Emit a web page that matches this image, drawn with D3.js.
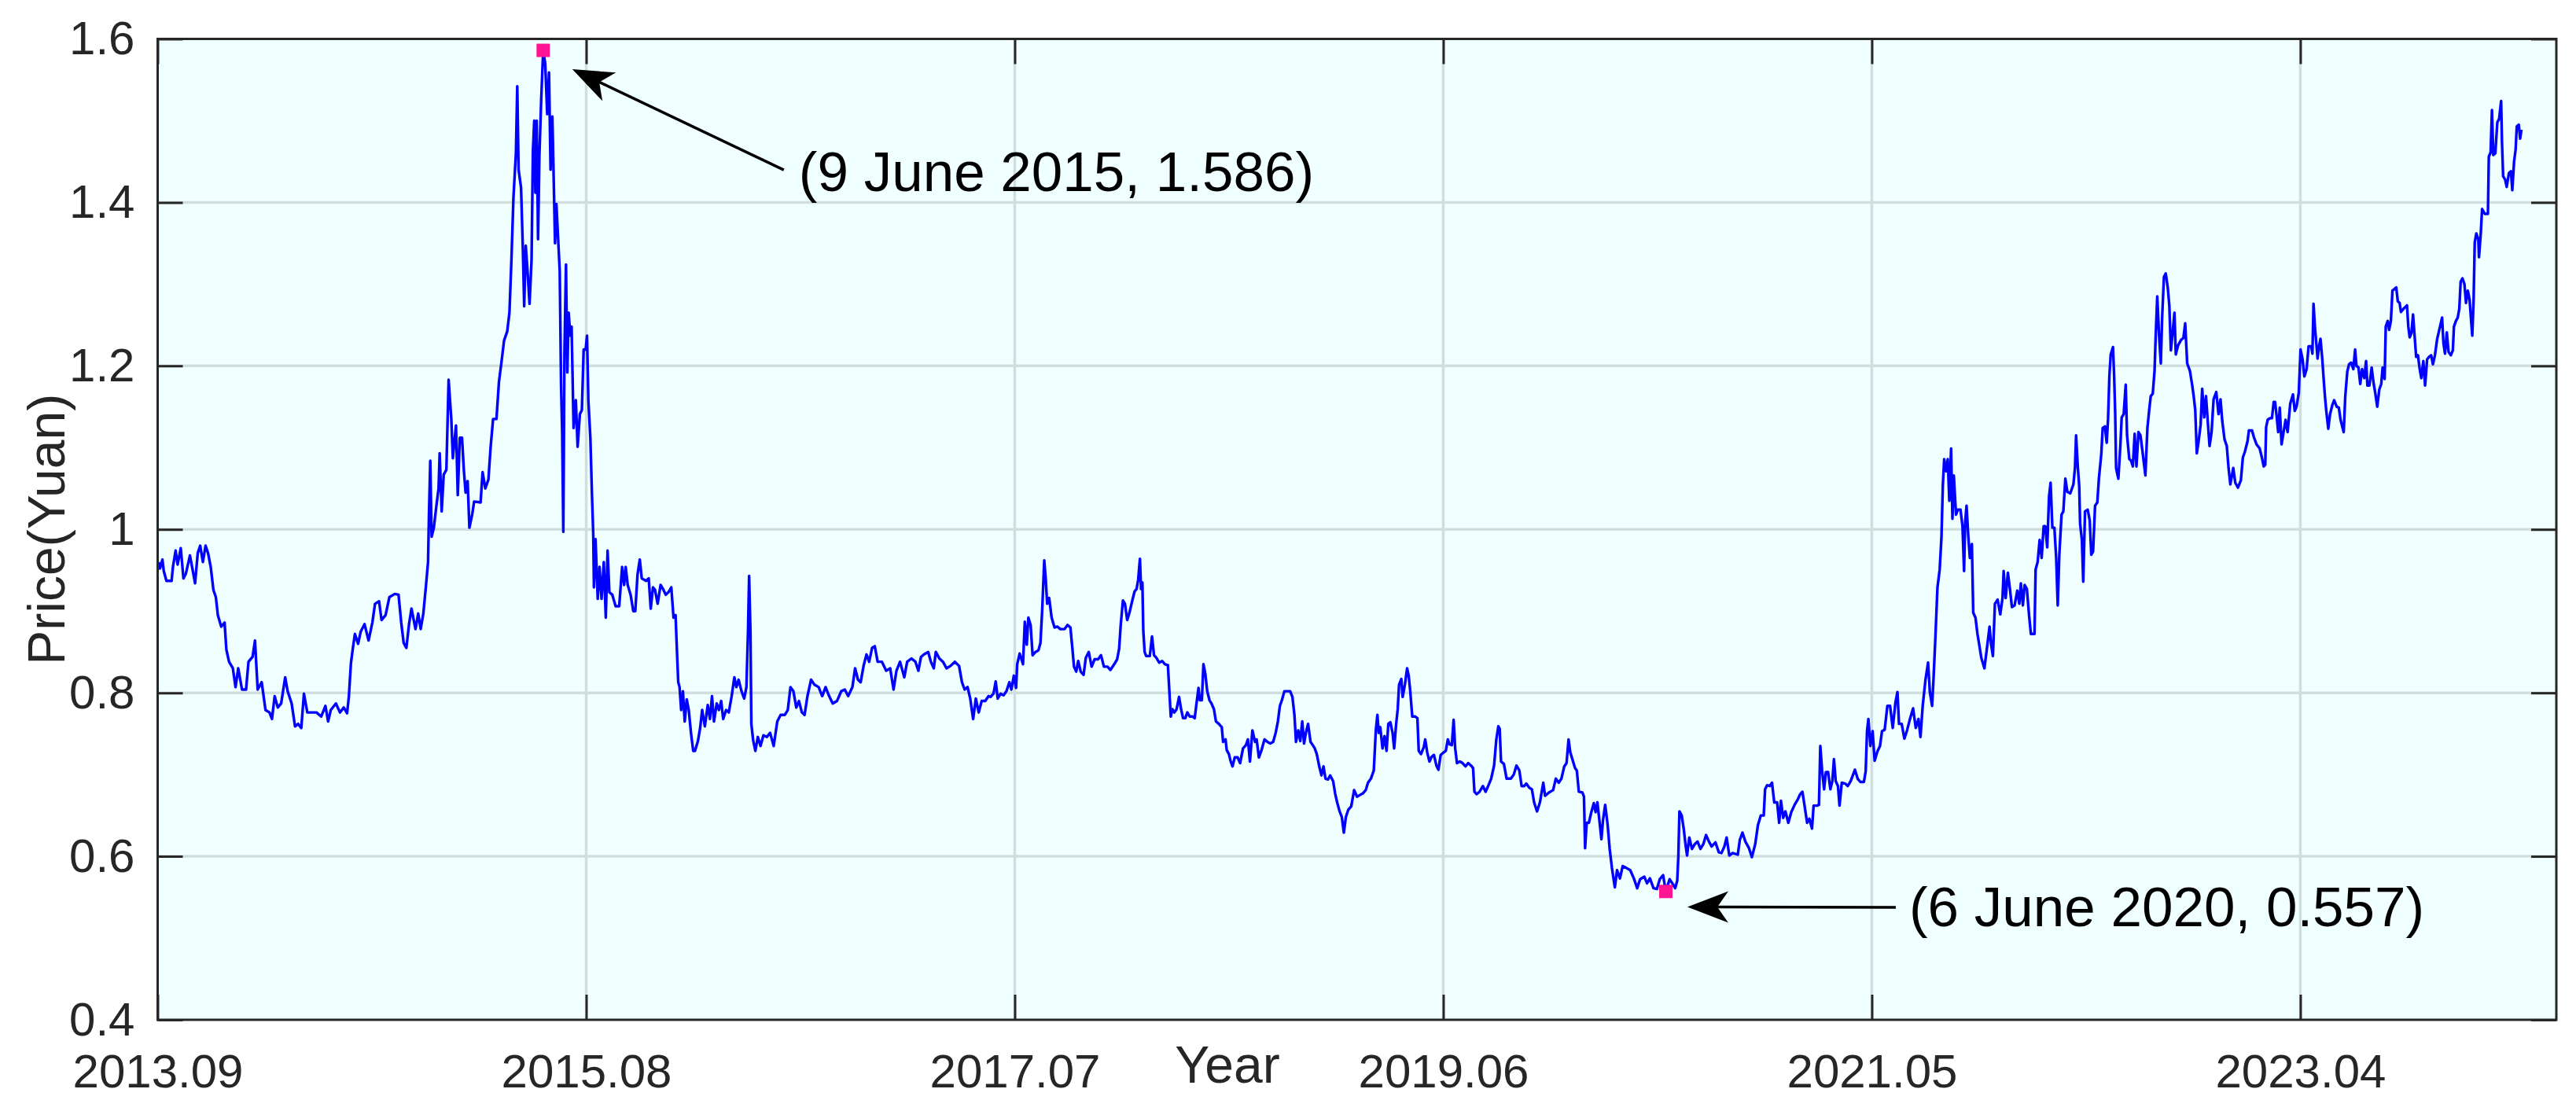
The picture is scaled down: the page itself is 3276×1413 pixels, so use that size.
<!DOCTYPE html>
<html>
<head>
<meta charset="utf-8">
<script src="https://cdn.jsdelivr.net/npm/d3@7"></script>
<style>
    body { margin: 0; background: #ffffff; }
    text { font-family: 'Liberation Sans', Arial, Helvetica, sans-serif; }
</style>
</head>
<body>
<div id="chart"></div>
<script>

// trading dates as decimal years
var years = [
    2013.671, 2013.677, 2013.688, 2013.694, 2013.706, 2013.729, 2013.735, 2013.747, 2013.756, 2013.770,
    2013.782, 2013.793, 2013.811, 2013.822, 2013.834, 2013.846, 2013.857, 2013.869, 2013.881, 2013.892,
    2013.904, 2013.916, 2013.927, 2013.936, 2013.951, 2013.966, 2013.974, 2013.986, 2014.003, 2014.015,
    2014.027, 2014.044, 2014.062, 2014.073, 2014.091, 2014.102, 2014.114, 2014.132, 2014.149, 2014.167,
    2014.178, 2014.190, 2014.204, 2014.219, 2014.237, 2014.248, 2014.266, 2014.281, 2014.295, 2014.309,
    2014.321, 2014.336, 2014.353, 2014.377, 2014.398, 2014.417, 2014.429, 2014.441, 2014.464, 2014.482,
    2014.499, 2014.514, 2014.522, 2014.531, 2014.540, 2014.549, 2014.563, 2014.575, 2014.592, 2014.610,
    2014.627, 2014.639, 2014.657, 2014.668, 2014.686, 2014.703, 2014.727, 2014.744, 2014.756, 2014.767,
    2014.779, 2014.791, 2014.802, 2014.820, 2014.832, 2014.843, 2014.855, 2014.866, 2014.876, 2014.880,
    2014.886, 2014.892, 2014.902, 2014.913, 2014.923, 2014.928, 2014.937, 2014.946, 2014.958, 2014.968,
    2014.980, 2014.987, 2015.001, 2015.009, 2015.018, 2015.028, 2015.036, 2015.044, 2015.053, 2015.061,
    2015.074, 2015.082, 2015.111, 2015.120, 2015.132, 2015.146, 2015.156, 2015.167, 2015.182, 2015.193,
    2015.205, 2015.216, 2015.230, 2015.240, 2015.249, 2015.258, 2015.269, 2015.275, 2015.281, 2015.292,
    2015.300, 2015.306, 2015.313, 2015.321, 2015.330, 2015.339, 2015.345, 2015.351, 2015.356, 2015.362,
    2015.368, 2015.374, 2015.382, 2015.391, 2015.400, 2015.409, 2015.417, 2015.424, 2015.432, 2015.438,
    2015.444, 2015.450,
    2015.465, 2015.471, 2015.476, 2015.481, 2015.486, 2015.493, 2015.499, 2015.505, 2015.512, 2015.518,
    2015.527, 2015.537, 2015.545, 2015.555, 2015.564, 2015.572, 2015.581, 2015.587, 2015.593, 2015.602,
    2015.609, 2015.615, 2015.618, 2015.625, 2015.635, 2015.643, 2015.652, 2015.662, 2015.671, 2015.679,
    2015.687, 2015.700, 2015.715, 2015.731, 2015.744, 2015.753, 2015.760, 2015.769, 2015.782, 2015.794,
    2015.803, 2015.813, 2015.823, 2015.832, 2015.851, 2015.863, 2015.872, 2015.882, 2015.891, 2015.903,
    2015.916, 2015.929, 2015.939, 2015.951, 2015.964, 2015.974, 2015.983, 2015.989, 2015.995, 2016.001,
    2016.008, 2016.016, 2016.024, 2016.033, 2016.042, 2016.052, 2016.062, 2016.070, 2016.083, 2016.093,
    2016.102, 2016.114, 2016.127, 2016.137, 2016.146, 2016.155, 2016.167, 2016.177, 2016.187, 2016.196,
    2016.209, 2016.221, 2016.234, 2016.246, 2016.255, 2016.265, 2016.278, 2016.290, 2016.300, 2016.307,
    2016.312, 2016.318, 2016.322, 2016.330, 2016.340, 2016.351, 2016.363, 2016.376, 2016.391, 2016.406,
    2016.422, 2016.438, 2016.453, 2016.472, 2016.485, 2016.497, 2016.510, 2016.523, 2016.535, 2016.548,
    2016.560, 2016.573, 2016.589, 2016.604, 2016.623, 2016.639, 2016.654, 2016.670, 2016.686, 2016.705,
    2016.724, 2016.740, 2016.755, 2016.774, 2016.786, 2016.799, 2016.811, 2016.824, 2016.837, 2016.849,
    2016.862, 2016.874, 2016.887, 2016.906, 2016.925, 2016.943, 2016.958, 2016.971, 2016.987, 2017.006,
    2017.019, 2017.038, 2017.056, 2017.069, 2017.081, 2017.094, 2017.113, 2017.125, 2017.138, 2017.147,
    2017.163, 2017.179, 2017.195, 2017.213, 2017.232, 2017.251, 2017.264, 2017.276, 2017.289, 2017.301,
    2017.314, 2017.326, 2017.339, 2017.352, 2017.368, 2017.383,
    2017.392, 2017.405, 2017.415, 2017.424, 2017.437, 2017.450, 2017.463, 2017.476, 2017.485, 2017.496,
    2017.506, 2017.511, 2017.522, 2017.528, 2017.537, 2017.545, 2017.554, 2017.561, 2017.571, 2017.580,
    2017.593, 2017.606, 2017.615, 2017.623, 2017.632, 2017.639, 2017.645, 2017.654, 2017.665, 2017.678,
    2017.691, 2017.704, 2017.723, 2017.736, 2017.749, 2017.758, 2017.765, 2017.775, 2017.784, 2017.795,
    2017.808, 2017.818, 2017.831, 2017.844, 2017.857, 2017.873, 2017.886, 2017.899, 2017.915, 2017.928,
    2017.945, 2017.958, 2017.967, 2017.974, 2017.984, 2017.993, 2018.003, 2018.013, 2018.026, 2018.036,
    2018.045, 2018.052, 2018.060, 2018.065, 2018.071, 2018.075, 2018.081, 2018.088, 2018.104, 2018.114,
    2018.123, 2018.133, 2018.146, 2018.159, 2018.172, 2018.185, 2018.192, 2018.198, 2018.205, 2018.214,
    2018.224, 2018.235, 2018.244, 2018.253, 2018.263, 2018.272, 2018.283, 2018.296, 2018.305, 2018.313,
    2018.322, 2018.328, 2018.337, 2018.344, 2018.352, 2018.361, 2018.371, 2018.380, 2018.391, 2018.400,
    2018.413, 2018.426, 2018.432, 2018.443, 2018.448, 2018.458, 2018.465, 2018.474, 2018.484, 2018.497,
    2018.508, 2018.521, 2018.534, 2018.543, 2018.552, 2018.563, 2018.575, 2018.582, 2018.592, 2018.604,
    2018.617, 2018.630, 2018.643, 2018.656, 2018.667, 2018.677, 2018.686, 2018.695, 2018.706, 2018.719,
    2018.732, 2018.742, 2018.751, 2018.758, 2018.768, 2018.777, 2018.786, 2018.794, 2018.803, 2018.812,
    2018.823, 2018.833, 2018.842, 2018.851, 2018.862, 2018.872, 2018.881, 2018.890, 2018.901, 2018.911,
    2018.924, 2018.933, 2018.942, 2018.953, 2018.963, 2018.972, 2018.981, 2018.992, 2019.005, 2019.018,
    2019.031, 2019.044, 2019.057, 2019.070, 2019.080, 2019.093, 2019.106, 2019.115, 2019.122, 2019.128,
    2019.135, 2019.145, 2019.154, 2019.163, 2019.171, 2019.180, 2019.190, 2019.197, 2019.206, 2019.213,
    2019.219, 2019.229, 2019.235, 2019.245, 2019.255, 2019.262, 2019.269, 2019.278, 2019.291, 2019.301,
    2019.307, 2019.317,
    2019.330, 2019.336, 2019.345, 2019.355, 2019.365, 2019.375, 2019.386, 2019.395, 2019.405, 2019.418,
    2019.428, 2019.437, 2019.445, 2019.455, 2019.463, 2019.470, 2019.478, 2019.491, 2019.503, 2019.516,
    2019.528, 2019.541, 2019.550, 2019.556, 2019.566, 2019.579, 2019.594, 2019.606, 2019.619, 2019.631,
    2019.644, 2019.654, 2019.663, 2019.669, 2019.675, 2019.688, 2019.700, 2019.719, 2019.732, 2019.744,
    2019.757, 2019.767, 2019.779, 2019.788, 2019.801, 2019.813, 2019.823, 2019.836, 2019.849, 2019.864,
    2019.872, 2019.889, 2019.908, 2019.920, 2019.933, 2019.945, 2019.958, 2019.968, 2019.977, 2019.985,
    2019.995, 2020.006, 2020.014, 2020.023, 2020.039, 2020.046, 2020.051, 2020.058, 2020.068, 2020.077,
    2020.090, 2020.098, 2020.106, 2020.115, 2020.124, 2020.131, 2020.141, 2020.152, 2020.161, 2020.171,
    2020.178, 2020.184, 2020.194, 2020.207, 2020.219, 2020.234, 2020.253, 2020.269, 2020.284, 2020.297,
    2020.316, 2020.328, 2020.341, 2020.357, 2020.372, 2020.385, 2020.400, 2020.412, 2020.429, 2020.441,
    2020.454, 2020.463, 2020.468, 2020.473, 2020.483, 2020.492, 2020.500, 2020.507, 2020.517, 2020.529,
    2020.542, 2020.554, 2020.567, 2020.580, 2020.592, 2020.605, 2020.617, 2020.634, 2020.649, 2020.661,
    2020.674, 2020.684, 2020.696, 2020.711, 2020.734, 2020.743, 2020.755, 2020.768, 2020.784, 2020.797,
    2020.812, 2020.824, 2020.837, 2020.850, 2020.856, 2020.865, 2020.877, 2020.887, 2020.897, 2020.910,
    2020.919, 2020.927, 2020.937, 2020.947, 2020.960, 2020.973, 2020.988, 2021.003, 2021.013, 2021.023,
    2021.032, 2021.044, 2021.054, 2021.066, 2021.073, 2021.088, 2021.097, 2021.103, 2021.111, 2021.120,
    2021.128, 2021.138, 2021.148, 2021.157, 2021.164, 2021.172, 2021.182, 2021.189, 2021.199, 2021.214,
    2021.226, 2021.239, 2021.258,
    2021.270, 2021.282, 2021.298, 2021.306, 2021.312, 2021.318, 2021.327, 2021.337, 2021.346, 2021.358,
    2021.370, 2021.379, 2021.391, 2021.403, 2021.415, 2021.427, 2021.439, 2021.448, 2021.455, 2021.467,
    2021.479, 2021.492, 2021.504, 2021.518, 2021.530, 2021.542, 2021.551, 2021.561, 2021.573, 2021.585,
    2021.593, 2021.603, 2021.609, 2021.617, 2021.627, 2021.637, 2021.645, 2021.651, 2021.657, 2021.666,
    2021.673, 2021.680, 2021.688, 2021.694, 2021.700, 2021.710, 2021.718, 2021.730, 2021.739, 2021.746,
    2021.751, 2021.757, 2021.765, 2021.772, 2021.781, 2021.787, 2021.797, 2021.806, 2021.815, 2021.823,
    2021.837, 2021.848, 2021.860, 2021.867, 2021.875, 2021.884, 2021.896, 2021.908, 2021.918, 2021.923,
    2021.932, 2021.942, 2021.952, 2021.960, 2021.972, 2021.984, 2021.993, 2022.000, 2022.009, 2022.017,
    2022.027, 2022.037, 2022.045, 2022.061, 2022.066, 2022.075, 2022.084, 2022.093, 2022.102, 2022.109,
    2022.118, 2022.126, 2022.133, 2022.141, 2022.150, 2022.158, 2022.165, 2022.172, 2022.182, 2022.190,
    2022.199, 2022.208, 2022.221, 2022.235, 2022.242, 2022.247, 2022.255, 2022.261, 2022.265, 2022.273,
    2022.279, 2022.287, 2022.299, 2022.308, 2022.315, 2022.323, 2022.332, 2022.342, 2022.349, 2022.360,
    2022.366, 2022.376, 2022.384, 2022.390, 2022.396, 2022.402, 2022.412, 2022.417, 2022.422, 2022.426,
    2022.436, 2022.445, 2022.451, 2022.460, 2022.469, 2022.475, 2022.485, 2022.493, 2022.501, 2022.509,
    2022.517, 2022.526, 2022.535, 2022.545, 2022.557, 2022.566, 2022.574, 2022.581, 2022.590, 2022.598,
    2022.603, 2022.610, 2022.618, 2022.626, 2022.632, 2022.640, 2022.648, 2022.657, 2022.664, 2022.671,
    2022.678, 2022.687, 2022.693, 2022.703, 2022.717, 2022.727, 2022.735, 2022.744, 2022.756, 2022.766,
    2022.773, 2022.780, 2022.787, 2022.796, 2022.804, 2022.811, 2022.820, 2022.828, 2022.836, 2022.844,
    2022.853, 2022.862, 2022.874, 2022.884, 2022.893, 2022.901, 2022.911, 2022.921, 2022.929, 2022.937,
    2022.950, 2022.959, 2022.971, 2022.984, 2022.993, 2023.002, 2023.014, 2023.020, 2023.034, 2023.042,
    2023.054, 2023.068, 2023.078, 2023.086,
    2023.093, 2023.097, 2023.104, 2023.114, 2023.123, 2023.131, 2023.137, 2023.143, 2023.151, 2023.158,
    2023.166, 2023.175, 2023.184, 2023.193, 2023.205, 2023.217, 2023.225, 2023.233, 2023.243, 2023.251,
    2023.260, 2023.268, 2023.278, 2023.287, 2023.299, 2023.304, 2023.309, 2023.315, 2023.322, 2023.327,
    2023.334, 2023.340, 2023.348, 2023.354, 2023.360, 2023.366, 2023.375, 2023.383, 2023.393, 2023.401,
    2023.413, 2023.422, 2023.430, 2023.440, 2023.444, 2023.451, 2023.460, 2023.468, 2023.477, 2023.487,
    2023.495, 2023.501, 2023.510, 2023.518, 2023.526, 2023.536, 2023.544, 2023.550, 2023.559, 2023.569,
    2023.577, 2023.585, 2023.594, 2023.603, 2023.612, 2023.618, 2023.627, 2023.632, 2023.641, 2023.647,
    2023.655, 2023.662, 2023.671, 2023.679, 2023.686, 2023.694, 2023.700, 2023.712, 2023.727, 2023.733,
    2023.739, 2023.747, 2023.754, 2023.761, 2023.768, 2023.776, 2023.784, 2023.791, 2023.800, 2023.808,
    2023.817, 2023.826, 2023.835, 2023.843, 2023.852, 2023.862, 2023.873, 2023.884, 2023.890, 2023.897,
    2023.905, 2023.913, 2023.923, 2023.932, 2023.937, 2023.946, 2023.954, 2023.961, 2023.967, 2023.975,
    2023.984, 2023.991, 2023.999, 2024.007, 2024.014, 2024.019, 2024.025, 2024.030, 2024.037, 2024.046,
    2024.049, 2024.057, 2024.063, 2024.075, 2024.089, 2024.093, 2024.101, 2024.107, 2024.113, 2024.122,
    2024.131, 2024.139, 2024.148, 2024.152, 2024.157, 2024.166, 2024.173, 2024.183, 2024.192, 2024.198,
    2024.206, 2024.213, 2024.218, 2024.227, 2024.233, 2024.239
];

// closing price (Yuan)
var prices = [
    0.960, 0.952, 0.963, 0.949, 0.937, 0.937, 0.954, 0.974, 0.957, 0.977,
    0.940, 0.946, 0.968, 0.952, 0.934, 0.971, 0.980, 0.960, 0.980, 0.971,
    0.954, 0.926, 0.917, 0.895, 0.881, 0.886, 0.853, 0.838, 0.830, 0.807,
    0.830, 0.804, 0.804, 0.838, 0.844, 0.864, 0.804, 0.813, 0.779, 0.776,
    0.768, 0.796, 0.782, 0.787, 0.819, 0.802, 0.787, 0.759, 0.762, 0.757,
    0.799, 0.776, 0.776, 0.776, 0.771, 0.784, 0.765, 0.779, 0.787, 0.776,
    0.782, 0.775, 0.796, 0.836, 0.855, 0.872, 0.860, 0.875, 0.884, 0.864,
    0.886, 0.909, 0.912, 0.889, 0.895, 0.917, 0.921, 0.920, 0.886, 0.861,
    0.855, 0.884, 0.903, 0.878, 0.897, 0.878, 0.897, 0.929, 0.960, 1.016,
    1.084, 0.991, 1.002, 1.028, 1.050, 1.093, 1.022, 1.067, 1.073, 1.183,
    1.135, 1.087, 1.127, 1.042, 1.112, 1.112, 1.073, 1.045, 1.059, 1.002,
    1.019, 1.034, 1.033, 1.070, 1.050, 1.061, 1.101, 1.135, 1.135, 1.180,
    1.206, 1.231, 1.242, 1.265, 1.330, 1.406, 1.460, 1.542, 1.440, 1.418,
    1.344, 1.273, 1.347, 1.316, 1.276, 1.330, 1.463, 1.500, 1.412, 1.500,
    1.355, 1.457, 1.525, 1.586, 1.570, 1.508, 1.559, 1.440, 1.505, 1.429,
    1.350, 1.398,
    1.316, 1.175, 1.118, 0.997, 1.214, 1.324, 1.192, 1.265, 1.237, 1.248,
    1.124, 1.158, 1.101, 1.141, 1.146, 1.220, 1.220, 1.237, 1.158, 1.112,
    1.044, 0.993, 0.929, 0.988, 0.915, 0.954, 0.915, 0.960, 0.892, 0.974,
    0.923, 0.920, 0.906, 0.906, 0.954, 0.932, 0.954, 0.932, 0.920, 0.900,
    0.900, 0.945, 0.963, 0.940, 0.937, 0.940, 0.903, 0.929, 0.926, 0.909,
    0.932, 0.926, 0.920, 0.923, 0.929, 0.892, 0.895, 0.853, 0.813, 0.807,
    0.779, 0.802, 0.765, 0.792, 0.779, 0.751, 0.729, 0.729, 0.741, 0.757,
    0.779, 0.759, 0.785, 0.768, 0.796, 0.765, 0.787, 0.779, 0.790, 0.768,
    0.779, 0.776, 0.796, 0.819, 0.807, 0.816, 0.802, 0.793, 0.807, 0.875,
    0.943, 0.875, 0.762, 0.742, 0.729, 0.746, 0.735, 0.748, 0.746, 0.751,
    0.735, 0.765, 0.773, 0.773, 0.779, 0.807, 0.802, 0.782, 0.790, 0.776,
    0.773, 0.796, 0.816, 0.810, 0.807, 0.796, 0.807, 0.796, 0.787, 0.790,
    0.802, 0.804, 0.796, 0.807, 0.830, 0.816, 0.813, 0.833, 0.847, 0.838,
    0.855, 0.857, 0.838, 0.838, 0.827, 0.830, 0.804, 0.827, 0.838, 0.819,
    0.838, 0.842, 0.838, 0.827, 0.844, 0.847, 0.850, 0.838, 0.830, 0.850,
    0.842, 0.838, 0.830, 0.833, 0.838, 0.833, 0.813, 0.804, 0.807, 0.793,
    0.768, 0.793, 0.776, 0.790, 0.790, 0.796,
    0.795, 0.799, 0.814, 0.793, 0.799, 0.797, 0.802, 0.813, 0.804, 0.821,
    0.806, 0.835, 0.848, 0.843, 0.835, 0.887, 0.859, 0.892, 0.883, 0.846,
    0.850, 0.852, 0.861, 0.902, 0.962, 0.938, 0.909, 0.916, 0.892, 0.880,
    0.881, 0.878, 0.878, 0.883, 0.880, 0.854, 0.832, 0.826, 0.839, 0.826,
    0.822, 0.843, 0.850, 0.832, 0.841, 0.841, 0.846, 0.832, 0.832, 0.828,
    0.835, 0.841, 0.854, 0.883, 0.913, 0.909, 0.889, 0.898, 0.913, 0.924,
    0.927, 0.938, 0.964, 0.927, 0.935, 0.876, 0.850, 0.845, 0.845, 0.869,
    0.846, 0.843, 0.837, 0.839, 0.835, 0.834, 0.800, 0.771, 0.780, 0.776,
    0.780, 0.795, 0.780, 0.769, 0.769, 0.776, 0.771, 0.771, 0.769, 0.787,
    0.806, 0.791, 0.791, 0.835, 0.824, 0.802, 0.791, 0.787, 0.780, 0.765,
    0.762, 0.758, 0.740, 0.743, 0.730, 0.725, 0.717, 0.710, 0.721, 0.721,
    0.714, 0.732, 0.736, 0.743, 0.716, 0.754, 0.740, 0.743, 0.721, 0.730,
    0.743, 0.740, 0.738, 0.740, 0.751, 0.765, 0.784, 0.791, 0.802, 0.802,
    0.802, 0.795, 0.773, 0.740, 0.754, 0.741, 0.765, 0.738, 0.752, 0.762,
    0.740, 0.736, 0.732, 0.725, 0.710, 0.699, 0.710, 0.695, 0.694, 0.699,
    0.692, 0.677, 0.666, 0.655, 0.648, 0.629, 0.648, 0.657, 0.661, 0.681,
    0.673, 0.675, 0.677, 0.681, 0.690, 0.695, 0.705, 0.754, 0.773, 0.751,
    0.758, 0.732, 0.747, 0.729, 0.762, 0.764, 0.751, 0.732, 0.762, 0.780,
    0.810, 0.817, 0.795, 0.810, 0.830, 0.821, 0.802, 0.771, 0.771, 0.769,
    0.729, 0.725,
    0.734, 0.743, 0.727, 0.716, 0.722, 0.724, 0.711, 0.706, 0.724, 0.727,
    0.729, 0.743, 0.737, 0.736, 0.767, 0.732, 0.714, 0.716, 0.714, 0.710,
    0.714, 0.711, 0.708, 0.679, 0.676, 0.679, 0.686, 0.679, 0.687, 0.695,
    0.711, 0.743, 0.759, 0.756, 0.716, 0.713, 0.695, 0.695, 0.700, 0.711,
    0.705, 0.686, 0.686, 0.689, 0.684, 0.682, 0.666, 0.655, 0.666, 0.690,
    0.674, 0.678, 0.681, 0.695, 0.690, 0.695, 0.710, 0.714, 0.743, 0.727,
    0.718, 0.708, 0.705, 0.679, 0.678, 0.673, 0.610, 0.641, 0.641, 0.652,
    0.665, 0.654, 0.666, 0.644, 0.621, 0.644, 0.663, 0.638, 0.609, 0.586,
    0.573, 0.562, 0.583, 0.573, 0.588, 0.586, 0.583, 0.573, 0.561, 0.572,
    0.575, 0.567, 0.573, 0.561, 0.560, 0.572, 0.577, 0.557, 0.572, 0.567,
    0.561, 0.570, 0.599, 0.655, 0.650, 0.634, 0.615, 0.601, 0.623, 0.609,
    0.615, 0.618, 0.609, 0.615, 0.626, 0.618, 0.612, 0.617, 0.605, 0.604,
    0.612, 0.623, 0.601, 0.604, 0.602, 0.620, 0.629, 0.618, 0.610, 0.599,
    0.615, 0.638, 0.650, 0.650, 0.682, 0.687, 0.686, 0.690, 0.666, 0.666,
    0.641, 0.668, 0.647, 0.655, 0.641, 0.654, 0.663, 0.670, 0.676, 0.679,
    0.663, 0.641, 0.646, 0.634, 0.662, 0.662, 0.663, 0.735, 0.705, 0.682,
    0.703, 0.703, 0.682, 0.692, 0.719, 0.692, 0.686, 0.662, 0.690, 0.689,
    0.686, 0.692, 0.706,
    0.695, 0.691, 0.691, 0.704, 0.753, 0.768, 0.735, 0.753, 0.717, 0.728,
    0.735, 0.753, 0.755, 0.784, 0.784, 0.757, 0.788, 0.801, 0.762, 0.762,
    0.744, 0.755, 0.768, 0.781, 0.757, 0.768, 0.746, 0.784, 0.815, 0.837,
    0.801, 0.784, 0.815, 0.863, 0.929, 0.951, 0.991, 1.053, 1.086, 1.071,
    1.086, 1.035, 1.099, 1.013, 1.066, 1.018, 1.024, 1.024, 1.004, 0.949,
    1.009, 1.029, 0.991, 0.965, 0.982, 0.898, 0.892, 0.872, 0.857, 0.843,
    0.830, 0.854, 0.881, 0.859, 0.845, 0.909, 0.914, 0.896, 0.916, 0.949,
    0.916, 0.947, 0.925, 0.905, 0.907, 0.925, 0.909, 0.934, 0.907, 0.932,
    0.927, 0.894, 0.872, 0.872, 0.951, 0.960, 0.987, 0.965, 1.004, 1.004,
    0.978, 1.040, 1.057, 1.002, 1.002, 0.965, 0.907, 0.969, 1.018, 1.022,
    1.062, 1.046, 1.044, 1.055, 1.075, 1.115, 1.075, 1.053, 1.007, 0.987,
    0.936, 1.022, 1.024, 1.011, 0.969, 0.973, 1.029, 1.033, 1.062, 1.093,
    1.124, 1.126, 1.106, 1.135, 1.188, 1.214, 1.223, 1.190, 1.141, 1.075,
    1.062, 1.102, 1.137, 1.141, 1.177, 1.115, 1.086, 1.084, 1.077, 1.117,
    1.077, 1.119, 1.115, 1.093, 1.066, 1.124, 1.146, 1.163, 1.166, 1.194,
    1.236, 1.285, 1.238, 1.203, 1.260, 1.309, 1.313, 1.296, 1.274, 1.219,
    1.238, 1.265, 1.214, 1.225, 1.232, 1.234, 1.252, 1.203, 1.194, 1.177,
    1.163, 1.146, 1.093, 1.110, 1.128, 1.172, 1.137, 1.163, 1.132, 1.102,
    1.119, 1.159, 1.168, 1.141, 1.159, 1.132, 1.110, 1.102, 1.075, 1.055,
    1.075, 1.057, 1.051, 1.060, 1.088, 1.095, 1.108, 1.121, 1.121, 1.113,
    1.104, 1.099, 1.088, 1.077,
    1.079, 1.125, 1.134, 1.136, 1.136, 1.156, 1.156, 1.141, 1.119, 1.149,
    1.104, 1.119, 1.134, 1.119, 1.154, 1.165, 1.145, 1.150, 1.167, 1.220,
    1.208, 1.187, 1.196, 1.224, 1.224, 1.215, 1.276, 1.248, 1.226, 1.209,
    1.224, 1.233, 1.209, 1.185, 1.163, 1.145, 1.123, 1.141, 1.152, 1.158,
    1.150, 1.149, 1.134, 1.123, 1.119, 1.163, 1.193, 1.202, 1.204, 1.196,
    1.220, 1.200, 1.198, 1.178, 1.196, 1.185, 1.206, 1.176, 1.176, 1.198,
    1.180, 1.167, 1.150, 1.171, 1.178, 1.198, 1.184, 1.248, 1.255, 1.244,
    1.255, 1.292, 1.294, 1.296, 1.279, 1.277, 1.266, 1.270, 1.274, 1.248,
    1.235, 1.240, 1.263, 1.237, 1.211, 1.213, 1.196, 1.185, 1.206, 1.176,
    1.208, 1.211, 1.213, 1.202, 1.213, 1.233, 1.246, 1.259, 1.228, 1.215,
    1.241, 1.217, 1.213, 1.219, 1.248, 1.255, 1.259, 1.270, 1.303, 1.307,
    1.300, 1.277, 1.292, 1.281, 1.255, 1.237, 1.281, 1.351, 1.362, 1.355,
    1.333, 1.362, 1.392, 1.386, 1.386, 1.456, 1.461, 1.513, 1.458, 1.460,
    1.498, 1.502, 1.524, 1.473, 1.432, 1.428, 1.419, 1.436, 1.438, 1.415,
    1.450, 1.465, 1.493, 1.495, 1.478, 1.489
];

var yTicks = [0.4, 0.6, 0.8, 1, 1.2, 1.4, 1.6];
var xTickLabels = ['2013.09', '2015.08', '2017.07', '2019.06', '2021.05', '2023.04'];
var xEnd = 2024.395;

// highlighted extremes
var markYears = [2015.391, 2020.412];
var markPrices = [1.586, 0.557];
var markLabels = ['(9 June 2015, 1.586)', '(6 June 2020, 0.557)'];


drawChart();

function drawChart() {

    var width = 3276, height = 1413;
    var plot = {left: 200.5, right: 3251, top: 49.5, bottom: 1297};
    var ink = '#262626';

    // 'yyyy.mm' -> decimal year at start of month
    var toYear = function (s) {
        var p = s.split('.');
        return Number(p[0]) + (Number(p[1]) - 1) / 12;
    };
    var xTicks = xTickLabels.map(toYear);

    var x = d3.scaleLinear()
        .domain([xTicks[0], xEnd])
        .range([plot.left, plot.right]);

    var y = d3.scaleLinear()
        .domain([0.4, 1.6])
        .range([plot.bottom, plot.top]);

    var n = Math.min(years.length, prices.length);
    var data = [];
    for (var i = 0; i < n; i ++) {
        data.push({t: years[i], p: prices[i]});
    }

    var svg = d3.select('#chart')
        .append('svg')
        .attr('width', width)
        .attr('height', height)
        .style('display', 'block')
        .style('background', '#ffffff');

    svg.append('defs').append('clipPath')
        .attr('id', 'plotclip')
        .append('rect')
        .attr('x', plot.left)
        .attr('y', plot.top)
        .attr('width', plot.right - plot.left)
        .attr('height', plot.bottom - plot.top);

    // axes background
    svg.append('rect')
        .attr('x', plot.left)
        .attr('y', plot.top)
        .attr('width', plot.right - plot.left)
        .attr('height', plot.bottom - plot.top)
        .attr('fill', '#F0FFFF');

    // grid
    var grid = svg.append('g').attr('class', 'grid')
        .attr('stroke', '#d1dede')
        .attr('stroke-width', 3.5);

    grid.selectAll('line.gy')
        .data(yTicks.slice(1, -1))
        .enter()
        .append('line')
        .attr('class', 'gy')
        .attr('x1', plot.left)
        .attr('x2', plot.right)
        .attr('y1', function (d) { return y(d); })
        .attr('y2', function (d) { return y(d); });

    grid.selectAll('line.gx')
        .data(xTicks.slice(1))
        .enter()
        .append('line')
        .attr('class', 'gx')
        .attr('y1', plot.top)
        .attr('y2', plot.bottom)
        .attr('x1', function (d) { return x(d); })
        .attr('x2', function (d) { return x(d); });

    // price line
    var line = d3.line()
        .x(function (d) { return x(d.t); })
        .y(function (d) { return y(d.p); });

    svg.append('path')
        .datum(data)
        .attr('clip-path', 'url(#plotclip)')
        .attr('fill', 'none')
        .attr('stroke', '#0000FF')
        .attr('stroke-width', 3.4)
        .attr('stroke-linejoin', 'round')
        .attr('d', line);

    // axes, ticks pointing inward on all four sides
    var tick = 32;

    var xAxis = d3.axisBottom(x)
        .tickValues(xTicks)
        .tickFormat(function (d, i) { return xTickLabels[i]; })
        .tickSizeInner(-tick)
        .tickSizeOuter(0)
        .tickPadding(43);

    var yAxis = d3.axisLeft(y)
        .tickValues(yTicks)
        .tickFormat(function (d) { return String(d); })
        .tickSizeInner(-tick)
        .tickSizeOuter(0)
        .tickPadding(29);

    var gx = svg.append('g')
        .attr('transform', 'translate(0,' + plot.bottom + ')')
        .call(xAxis);

    var gy = svg.append('g')
        .attr('transform', 'translate(' + plot.left + ',0)')
        .call(yAxis);

    var gxTop = svg.append('g')
        .attr('transform', 'translate(0,' + plot.top + ')')
        .call(d3.axisTop(x).tickValues(xTicks).tickSizeInner(-tick).tickSizeOuter(0).tickFormat(''));

    var gyRight = svg.append('g')
        .attr('transform', 'translate(' + plot.right + ',0)')
        .call(d3.axisRight(y).tickValues(yTicks).tickSizeInner(-tick).tickSizeOuter(0).tickFormat(''));

    [gx, gy, gxTop, gyRight].forEach(function (g) {
        g.select('.domain').remove();
        g.selectAll('.tick line')
            .attr('stroke', ink)
            .attr('stroke-width', 3);
        g.selectAll('.tick text')
            .attr('fill', ink)
            .style('font-size', '60px')
            .style('font-family', "'Liberation Sans', Arial, Helvetica, sans-serif");
    });

    // box
    svg.append('rect')
        .attr('x', plot.left)
        .attr('y', plot.top)
        .attr('width', plot.right - plot.left)
        .attr('height', plot.bottom - plot.top)
        .attr('fill', 'none')
        .attr('stroke', ink)
        .attr('stroke-width', 3);

    // axis labels
    svg.append('text')
        .attr('transform', 'translate(82,' + ((plot.top + plot.bottom) / 2) + ') rotate(-90)')
        .attr('text-anchor', 'middle')
        .attr('fill', ink)
        .style('font-size', '66px')
        .text('Price(Yuan)');

    svg.append('text')
        .attr('x', 1561)
        .attr('y', 1377)
        .attr('text-anchor', 'middle')
        .attr('fill', ink)
        .style('font-size', '66px')
        .text('Year');

    // annotations: offsets in px from the marker centre
    var notes = [
        {tip: [37, 24], tail: [306, 152], text: [325, 179]},
        {tip: [27.5, 19.6], tail: [292.5, 20.3], text: [309.5, 44.3]}
    ];

    var head = {len: 52, half: 20, notch: 38};

    var ann = svg.append('g').attr('class', 'annotations');

    for (var k = 0; k < markYears.length; k ++) {
        var cx = x(markYears[k]), cy = y(markPrices[k]);
        var o = notes[k];
        var tip = [cx + o.tip[0], cy + o.tip[1]];
        var tail = [cx + o.tail[0], cy + o.tail[1]];
        var dx = tail[0] - tip[0], dy = tail[1] - tip[1];
        var dl = Math.sqrt(dx * dx + dy * dy);
        var ux = dx / dl, uy = dy / dl, nx = -uy, ny = ux;

        var notchPt = [tip[0] + ux * head.notch, tip[1] + uy * head.notch];

        ann.append('line')
            .attr('x1', tail[0]).attr('y1', tail[1])
            .attr('x2', notchPt[0]).attr('y2', notchPt[1])
            .attr('stroke', '#000000')
            .attr('stroke-width', 3.5);

        var pts = [
            tip,
            [tip[0] + ux * head.len + nx * head.half, tip[1] + uy * head.len + ny * head.half],
            notchPt,
            [tip[0] + ux * head.len - nx * head.half, tip[1] + uy * head.len - ny * head.half]
        ];

        ann.append('polygon')
            .attr('points', pts.map(function (p) { return p[0] + ',' + p[1]; }).join(' '))
            .attr('fill', '#000000');

        ann.append('text')
            .attr('x', cx + o.text[0])
            .attr('y', cy + o.text[1])
            .attr('fill', '#000000')
            .style('font-size', '71px')
            .text(markLabels[k]);

        ann.append('rect')
            .attr('x', cx - 8.5)
            .attr('y', cy - 8.5)
            .attr('width', 17)
            .attr('height', 17)
            .attr('fill', '#FF1493');
    }
}

</script>
</body>
</html>
